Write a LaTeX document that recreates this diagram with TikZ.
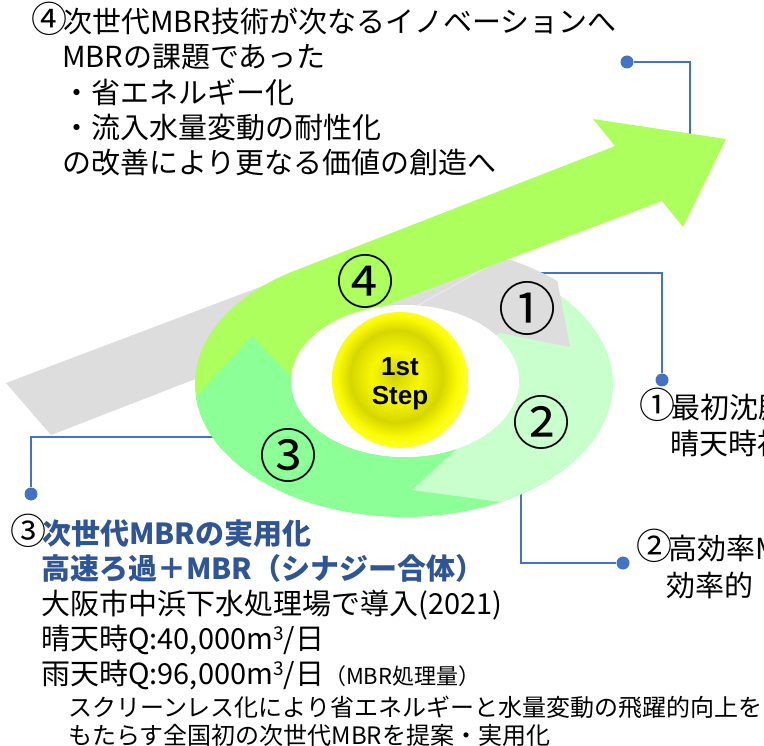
\documentclass[tikz,border=0pt]{standalone}
\usepackage{fontspec}
\setmainfont{Noto Sans CJK JP}
\newfontfamily\ballfont{Liberation Sans}

\definecolor{leadblue}{RGB}{68,114,196}
\definecolor{headblue}{RGB}{47,85,151}
\definecolor{stepgray}{RGB}{221,221,221}
\definecolor{steplight}{RGB}{200,255,205}
\definecolor{stepmid}{RGB}{140,255,150}
\definecolor{stepbright}{RGB}{172,255,92}

\pgfdeclareradialshading{goldball}{\pgfpoint{-2bp}{2bp}}{%
  color(0bp)=(yellow!82!black); color(9bp)=(yellow!97!black);
  color(17bp)=(yellow!84!black); color(22bp)=(yellow!98!black);
  color(25bp)=(yellow!85!white); color(50bp)=(yellow!85!white)}

% circled step number inside a line of text
\newcommand{\circnum}[1]{{\fontsize{36}{36}\selectfont #1}\hspace{-4pt}}
% cubic metres
\newcommand{\cubic}{m{\fontsize{19}{19}\selectfont\raisebox{9pt}{3}}}

\begin{document}
\begin{tikzpicture}[x=1pt,y=-1pt]
    \tikzstyle{lead}=[draw=leadblue, line width=2.2pt]
    \tikzstyle{leaddot}=[circle, fill=leadblue, inner sep=0pt, minimum size=13pt]
    \tikzstyle{bodytext}=[anchor=base west, inner sep=0pt, font=\fontsize{29}{35}\selectfont]
    \tikzstyle{notetext}=[anchor=base west, inner sep=0pt, font=\fontsize{24}{28}\selectfont]
    \tikzstyle{ringnum}=[inner sep=0pt, font=\fontsize{58}{58}\selectfont]

    \useasboundingbox (0,0) rectangle (764,746);
    \clip (0,0) rectangle (764,746);

    % leader lines, their inner ends run under the ring
    \coordinate (l4) at (690,145);
    \coordinate (l1) at (530,273);
    \coordinate (l2) at (521,470);
    \coordinate (l3) at (225,437);
    \node[leaddot] (p4) at (627,62) {};
    \node[leaddot] (p1) at (662,380) {};
    \node[leaddot] (p2) at (623,563) {};
    \node[leaddot] (p3) at (31,494) {};
    \draw[lead] (p4) -| (l4);
    \draw[lead] (l1) -| (p1);
    \draw[lead] (l2) |- (p2);
    \draw[lead] (l3) -| (p3);

    % the ring
    \begin{scope}[shift={(404,384)}]
        \coordinate (hub) at (0,0);
        % step 2, light green
        \fill[steplight] (-65:209 and 133) arc[start angle=-65, end angle=62.5, x radius=209, y radius=133]
            -- (8,106) -- (53.6,64.4) arc[start angle=62.5, end angle=-65, x radius=114, y radius=76] -- cycle;
        % step 1, grey band with its head
        \fill[stepgray] (-398,-1) -- (-31.3,-139.6)
            arc[start angle=262, end angle=313, x radius=225, y radius=142]
            -- (166,-37) -- (96,-51) -- (1,-3) -- (-144,-30) -- (-353,51) -- cycle;
        \draw[white, opacity=.6, line width=.6pt] (9,-76) -- (83,-117);
        % step 4, bright green into the big arrow
        \fill[stepbright] (150:209 and 133) arc[start angle=150, end angle=240, x radius=209, y radius=133]
            -- (211,-238) -- (189,-265) -- (322,-245) -- (279,-157) -- (258,-183)
            -- (-4,-84) -- (-74,-57) -- (-104,16) -- cycle;
        % step 3, green
        \fill[stepmid] (45:209 and 133) arc[start angle=45, end angle=174.5, x radius=209, y radius=133]
            -- (-152,-48) -- (-112.8,-7) arc[start angle=183, end angle=45, x radius=114, y radius=76] -- cycle;
        % head of step 2 over step 3
        \fill[steplight] (20:209 and 133) arc[start angle=20, end angle=62.5, x radius=209, y radius=133]
            -- (8,106) -- (53.6,64.4) arc[start angle=62.5, end angle=20, x radius=114, y radius=76] -- cycle;
        % hole
        \fill[white] (1,-3) ellipse[x radius=114, y radius=76];

        % golden ball
        \node[circle, minimum size=136pt, inner sep=0pt, shading=goldball] (ball) at (-4,-4) {};
        \node[align=center, inner sep=0pt, font=\ballfont\bfseries\fontsize{26}{29}\selectfont]
            (steplabel) at ([yshift=-4pt]ball.center) {1st\\Step};

        % step numbers
        \node[ringnum] (n1) at (123,-76) {①};
        \node[ringnum] (n2) at (137,38) {②};
        \node[ringnum] (n3) at (-116,71) {③};
        \node[ringnum] (n4) at (-39,-103) {④};
    \end{scope}

    % text, top
    \node[bodytext] (t1) at (31,33) {\circnum{④}次世代MBR技術が次なるイノベーションへ};
    \node[bodytext] (t2) at (62,68) {MBRの課題であった};
    \node[bodytext] (t3) at (62,104) {・省エネルギー化};
    \node[bodytext] (t4) at (62,139) {・流入水量変動の耐性化};
    \node[bodytext] (t5) at (62,174) {の改善により更なる価値の創造へ};

    % text, right
    \node[bodytext] (r1) at (639,418) {\circnum{①}最初沈殿池};
    \node[bodytext] (r1b) at (670,454) {晴天時初};
    \node[bodytext] (r2) at (636,559) {\circnum{②}高効率MBR};
    \node[bodytext] (r2b) at (666,596) {効率的};

    % text, bottom
    \node[bodytext] (b1) at (10,544) {\circnum{③}{\bfseries\color{headblue}次世代MBRの実用化}};
    \node[bodytext, text=headblue, font=\fontsize{29}{35}\selectfont\bfseries] (b2) at (41,579) {高速ろ過＋MBR（シナジー合体）};
    \node[bodytext] (b3) at (41,614) {大阪市中浜下水処理場で導入(2021)};
    \node[bodytext] (b4) at (41,649) {晴天時Q:40,000\cubic/日};
    \node[bodytext] (b5) at (41,684) {雨天時Q:96,000\cubic/日{\fontsize{22}{26}\selectfont（MBR処理量）}};
    \node[notetext] (b6) at (68,716) {スクリーンレス化により省エネルギーと水量変動の飛躍的向上を};
    \node[notetext] (b7) at (68,744) {もたらす全国初の次世代MBRを提案・実用化};
\end{tikzpicture}
\end{document}
